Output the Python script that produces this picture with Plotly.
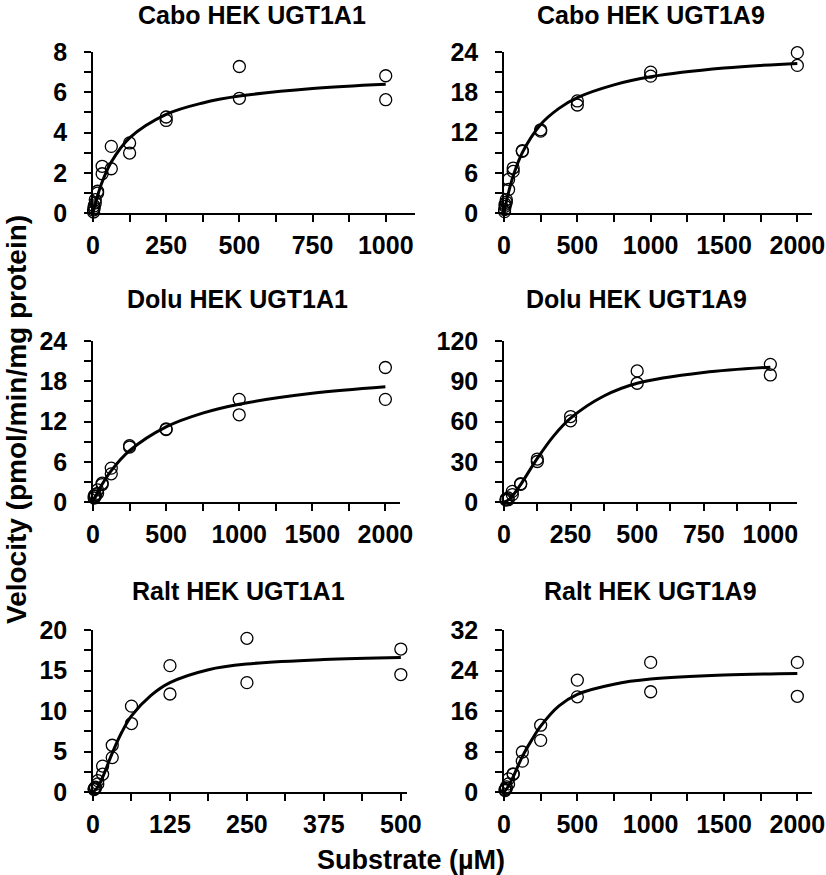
import plotly.graph_objects as go

W, H = 826, 875

# ---------------- data ----------------
titles = ["Cabo HEK UGT1A1", "Cabo HEK UGT1A9",
          "Dolu HEK UGT1A1", "Dolu HEK UGT1A9",
          "Ralt HEK UGT1A1", "Ralt HEK UGT1A9"]

cabo1a1_x = [1.95, 1.95, 3.9, 3.9, 7.8, 7.8, 15.6, 15.6, 31.25, 31.25, 62.5, 62.5,
             125, 125, 250, 250, 500, 500, 1000, 1000]
cabo1a1_y = [0.05, 0.15, 0.25, 0.35, 0.5, 0.66, 0.99, 1.08, 1.95, 2.32, 2.2, 3.31,
             2.98, 3.48, 4.6, 4.77, 5.7, 7.28, 5.63, 6.82]
cabo1a1_fit_x = [0, 7.8, 15.6, 31.25, 62.5, 125, 250, 375, 500, 750, 1000]
cabo1a1_fit_y = [0, 0.46, 0.86, 1.54, 2.53, 3.73, 4.9, 5.47, 5.81, 6.19, 6.4]

cabo1a9_x = [3.9, 3.9, 7.8, 7.8, 15.6, 15.6, 31.25, 31.25, 62.5, 62.5, 125, 125,
             250, 250, 500, 500, 1000, 1000, 2000, 2000]
cabo1a9_y = [0.2, 0.5, 1.0, 1.3, 1.6, 2.0, 3.5, 5.0, 6.2, 6.7, 9.2, 9.3,
             12.2, 12.4, 16.1, 16.7, 20.4, 21.0, 22.0, 23.9]
cabo1a9_fit_x = [0, 15.6, 31.25, 62.5, 125, 250, 375, 500, 750, 1000, 1500, 2000]
cabo1a9_fit_y = [0, 1.65, 3.1, 5.5, 9.0, 13.2, 15.6, 17.2, 19.1, 20.3, 21.6, 22.3]

dolu1a1_x = [7.8, 7.8, 15.6, 15.6, 31.25, 31.25, 62.5, 62.5, 125, 125, 250, 250,
             500, 500, 1000, 1000, 2000, 2000]
dolu1a1_y = [0.6, 0.9, 0.85, 1.1, 1.3, 1.8, 2.6, 2.8, 4.2, 5.05, 8.2, 8.4,
             10.8, 10.9, 13.0, 15.3, 15.3, 20.05]
dolu1a1_fit_x = [0, 31.25, 62.5, 125, 250, 500, 750, 1000, 1500, 2000]
dolu1a1_fit_y = [0, 1.41, 2.64, 4.68, 7.65, 11.2, 13.25, 14.58, 16.2, 17.18]

dolu1a9_x = [7.8, 7.8, 15.6, 15.6, 31.25, 31.25, 62.5, 62.5, 125, 125, 250, 250,
             500, 500, 1000, 1000]
dolu1a9_y = [1.5, 2.2, 1.7, 3.0, 5.5, 7.9, 13.2, 13.6, 30.2, 32.0, 60.5, 63.7,
             88.5, 97.7, 94.7, 102.6]
dolu1a9_fit_x = [0, 15.6, 31.25, 62.5, 125, 187.5, 250, 375, 500, 750, 1000]
dolu1a9_fit_y = [0, 1.4, 4.4, 13.0, 32.5, 49.5, 62.5, 79.0, 88.5, 96.5, 100.5]

ralt1a1_x = [1.95, 1.95, 3.9, 3.9, 7.8, 7.8, 15.6, 15.6, 31.25, 31.25, 62.5, 62.5,
             125, 125, 250, 250, 500, 500]
ralt1a1_y = [0.3, 0.4, 0.5, 0.6, 1.0, 1.4, 2.2, 3.2, 4.25, 5.77, 8.45, 10.6,
             12.1, 15.6, 13.5, 18.97, 14.5, 17.65]
ralt1a1_fit_x = [0, 7.8, 15.6, 31.25, 46.9, 62.5, 93.75, 125, 187.5, 250, 375, 500]
ralt1a1_fit_y = [0, 0.6, 1.8, 4.8, 7.4, 9.4, 11.9, 13.5, 15.1, 15.8, 16.35, 16.6]

ralt1a9_x = [7.8, 7.8, 15.6, 15.6, 31.25, 31.25, 62.5, 62.5, 125, 125, 250, 250,
             500, 500, 1000, 1000, 2000, 2000]
ralt1a9_y = [0.3, 0.5, 0.7, 1.0, 1.6, 2.6, 3.5, 3.6, 6.1, 7.9, 10.2, 13.2,
             18.8, 22.1, 19.8, 25.6, 18.9, 25.6]
ralt1a9_fit_x = [0, 31.25, 62.5, 125, 187.5, 250, 375, 500, 750, 1000, 1500, 2000]
ralt1a9_fit_y = [0, 1.2, 3.0, 7.0, 10.2, 13.0, 17.0, 19.3, 21.3, 22.3, 23.1, 23.4]

# axis settings per panel: x max, x dtick, y max, y dtick
x_max = [1100, 2100, 2100, 1100, 510, 2100]
x_dtick = [250, 500, 500, 250, 125, 500]
y_max = [8, 24, 24, 120, 20, 32]
y_dtick = [2, 6, 6, 30, 5, 8]

points = [(cabo1a1_x, cabo1a1_y), (cabo1a9_x, cabo1a9_y),
          (dolu1a1_x, dolu1a1_y), (dolu1a9_x, dolu1a9_y),
          (ralt1a1_x, ralt1a1_y), (ralt1a9_x, ralt1a9_y)]
fits = [(cabo1a1_fit_x, cabo1a1_fit_y), (cabo1a9_fit_x, cabo1a9_fit_y),
        (dolu1a1_fit_x, dolu1a1_fit_y), (dolu1a9_fit_x, dolu1a9_fit_y),
        (ralt1a1_fit_x, ralt1a1_fit_y), (ralt1a9_fit_x, ralt1a9_fit_y)]

# ---------------- layout (pixel geometry) ----------------
# plot area boxes: (left, right, top, bottom) in pixels
boxes = [(93, 415, 52, 213), (504, 812, 52, 213),
         (93, 400, 341, 502), (504, 797, 341, 502),
         (93, 407, 630, 792), (504, 812, 630, 792)]
title_pos = [(252, 15), (651, 15), (237, 299), (636, 299), (238, 591), (650, 591)]

FONT = "Liberation Sans, Arial, sans-serif"

fig = go.Figure()
layout = dict(
    template="none",
    width=W, height=H,
    margin=dict(l=0, r=0, t=0, b=0, pad=0, autoexpand=False),
    paper_bgcolor="white", plot_bgcolor="white",
    showlegend=False,
    font=dict(family=FONT, color="black"),
)

annotations = []
for i in range(6):
    n = "" if i == 0 else str(i + 1)
    xa, ya = "x" + n, "y" + n
    px, py = points[i]
    fx, fy = fits[i]
    fig.add_trace(go.Scatter(
        x=fx, y=fy, mode="lines", line=dict(color="black", width=3, shape="spline"),
        xaxis=xa, yaxis=ya, cliponaxis=False, hoverinfo="skip"))
    fig.add_trace(go.Scatter(
        x=px, y=py, mode="markers",
        marker=dict(symbol="circle-open", size=12, color="black",
                    line=dict(color="black", width=1.3)),
        xaxis=xa, yaxis=ya, cliponaxis=False))
    l, r, t, b = boxes[i]
    common = dict(
        automargin=False,
        showline=True, linecolor="black", linewidth=1.5,
        showgrid=False, zeroline=False,
        ticks="outside", ticklen=7, tickwidth=1.5, tickcolor="black",
        tickfont=dict(family=FONT, size=25, color="black", weight="bold"),
        tick0=0, ticklabeloverflow="allow",
    )
    layout["xaxis" + n] = dict(
        common, domain=[l / W, r / W], range=[0, x_max[i]], dtick=x_dtick[i],
        anchor=ya, ticklabelstandoff=2,
        minor=dict(dtick=x_dtick[i] / 2, tick0=0, ticks="outside", ticklen=7,
                   tickwidth=1.5, tickcolor="black", showgrid=False))
    layout["yaxis" + n] = dict(
        common, domain=[1 - b / H, 1 - t / H], range=[0, y_max[i]], dtick=y_dtick[i],
        anchor=xa, ticklabelstandoff=12,
        minor=dict(dtick=y_dtick[i] / 2, tick0=0, ticks="outside", ticklen=7,
                   tickwidth=1.5, tickcolor="black", showgrid=False))
    tx, ty = title_pos[i]
    annotations.append(dict(
        text=titles[i], x=tx / W, y=1 - ty / H, xref="paper", yref="paper",
        xanchor="center", yanchor="middle", showarrow=False,
        font=dict(family=FONT, size=25, color="black", weight="bold")))

annotations.append(dict(
    text="Substrate (µM)", x=411 / W, y=1 - 860 / H, xref="paper", yref="paper",
    xanchor="center", yanchor="middle", showarrow=False,
    font=dict(family=FONT, size=27, color="black", weight="bold")))
annotations.append(dict(
    text="Velocity (pmol/min/mg protein)", x=16 / W, y=1 - 420 / H,
    xref="paper", yref="paper", xanchor="center", yanchor="middle",
    showarrow=False, textangle=-90,
    font=dict(family=FONT, size=28, color="black", weight="bold")))

layout["annotations"] = annotations
fig.update_layout(**layout)
fig.write_html("out.html",
               config={"displayModeBar": False},
               post_script="document.body.style.margin='0';"
                           "document.documentElement.style.overflow='hidden';")
